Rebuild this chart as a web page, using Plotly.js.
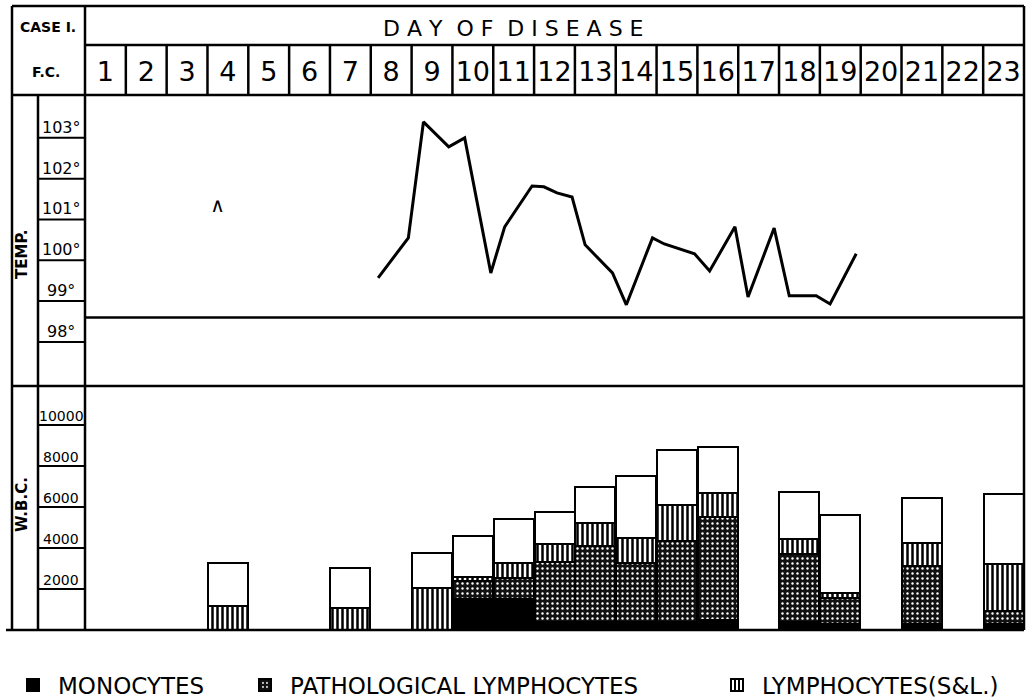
<!DOCTYPE html>
<html><head><meta charset="utf-8">
<script src="https://cdn.plot.ly/plotly-3.0.1.min.js"></script>
<style>html,body{margin:0;padding:0;background:#fff}#chart{width:1032px;height:699px}</style>
</head><body><div id="chart"></div><script>
// ---- data ----
const days = [1,2,3,4,5,6,7,8,9,10,11,12,13,14,15,16,17,18,19,20,21,22,23];
const dayLabels = ['1','2','3','4','5','6','7','8','9','10','11','12','13','14','15','16','17','18','19','20','21','22','23'];

const tempDays   = [7.68, 8.42, 8.79, 9.41, 9.80, 10.44, 10.78, 11.45, 11.74, 12.06, 12.43, 12.75, 13.42, 13.76, 14.40, 14.69, 15.43, 15.80, 16.42, 16.74, 17.38, 17.75, 18.41, 18.75, 19.39];
const tempValues = [99.57, 100.55, 103.39, 102.78, 103.0, 99.69, 100.82, 101.82, 101.80, 101.65, 101.55, 100.38, 99.69, 98.91, 100.55, 100.40, 100.16, 99.74, 100.82, 99.10, 100.79, 99.13, 99.13, 98.93, 100.16];
const caretDay = [3.75];
const caretTemp = [101.3];
const tempTicks = [98, 99, 100, 101, 102, 103];
const tempTickLabels = ['98°', '99°', '100°', '101°', '102°', '103°'];
const normalTemp = 98.6;

const wbcDays         = [4, 7, 9, 10, 11, 12, 13, 14, 15, 16, 18, 19, 21, 23];
const monocytes       = [0, 0, 0, 1500, 1500, 400, 400, 400, 400, 500, 400, 300, 300, 300];
const pathLymphocytes = [0, 0, 0, 890, 1040, 2900, 3700, 2870, 3940, 5010, 3310, 1260, 2820, 630];
const lymphocytes     = [1170, 1070, 2050, 200, 730, 900, 1120, 1220, 1760, 1170, 730, 240, 1120, 2290];
const otherCells      = [2100, 1950, 1710, 2000, 2140, 1560, 1760, 3020, 2680, 2250, 2290, 3810, 2200, 3410];
const wbcTicks = [2000, 4000, 6000, 8000, 10000];
const wbcTickLabels = ['2000', '4000', '6000', '8000', '10000'];

// ---- layout helpers (pixel -> paper) ----
const W = 1032, H = 699, ML = 85, MR = 8, MT = 95, MB = 69;
const PW = W - ML - MR, PH = H - MT - MB;
const px = x => (x - ML) / PW;
const py = y => (H - MB - y) / PH;
const SPLIT = py(386);
const FONT = '"DejaVu Sans", sans-serif';
const LW = 2.5;

const barLine = {color: '#000', width: 2};
const traces = [
  {type: 'bar', x: wbcDays, y: monocytes, name: 'MONOCYTES', xaxis: 'x', yaxis: 'y', width: 0.98,
   marker: {color: '#000', line: barLine}, legend: 'legend'},
  {type: 'bar', x: wbcDays, y: pathLymphocytes, name: 'PATHOLOGICAL LYMPHOCYTES', xaxis: 'x', yaxis: 'y', width: 0.98,
   marker: {color: '#111', line: barLine, pattern: {shape: '.', fgcolor: '#fff', bgcolor: '#111', size: 5, solidity: 0.18}}, legend: 'legend2'},
  {type: 'bar', x: wbcDays, y: lymphocytes, name: 'LYMPHOCYTES(S&L.)', xaxis: 'x', yaxis: 'y', width: 0.98,
   marker: {color: '#fff', line: barLine, pattern: {shape: '|', fgcolor: '#000', bgcolor: '#fff', size: 5, solidity: 0.5}}, legend: 'legend3'},
  {type: 'bar', x: wbcDays, y: otherCells, name: 'other', xaxis: 'x', yaxis: 'y', width: 0.98,
   marker: {color: '#fff', line: barLine}, showlegend: false},
  {type: 'scatter', mode: 'lines', x: tempDays, y: tempValues, xaxis: 'x2', yaxis: 'y2',
   line: {color: '#000', width: 3}, showlegend: false},
  {type: 'scatter', mode: 'text', x: caretDay, y: caretTemp, text: ['∧'], xaxis: 'x2', yaxis: 'y2',
   textfont: {family: FONT, size: 20, color: '#000'}, showlegend: false}
];

const shapes = [];
const line = (x0, y0, x1, y1) => ({type: 'line', xref: 'paper', yref: 'paper', x0, y0, x1, y1, line: {color: '#000', width: LW}});
shapes.push(line(px(12), py(6), 1, py(6)));
shapes.push(line(0, py(45), 1, py(45)));
shapes.push(line(px(12), 1, 1, 1));
shapes.push(line(px(12), SPLIT, 1, SPLIT));
shapes.push(line(px(6), 0, 1, 0));
shapes.push(line(px(12), py(6), px(12), 0));
shapes.push(line(px(38), 1, px(38), 0));
shapes.push(line(0, py(6), 0, 0));
shapes.push(line(1, py(6), 1, 0));
days.slice(0, -1).forEach(d => shapes.push({type: 'line', xref: 'x2', yref: 'paper', x0: d + 0.5, x1: d + 0.5, y0: 1, y1: py(45), line: {color: '#000', width: LW}}));
shapes.push({type: 'line', xref: 'paper', yref: 'y2', x0: 0, x1: 1, y0: normalTemp, y1: normalTemp, line: {color: '#000', width: LW}});
tempTicks.forEach(t => shapes.push({type: 'line', xref: 'paper', yref: 'y2', x0: px(38), x1: 0, y0: t, y1: t, line: {color: '#000', width: 2}}));
wbcTicks.forEach(t => shapes.push({type: 'line', xref: 'paper', yref: 'y', x0: px(38), x1: 0, y0: t, y1: t, line: {color: '#000', width: 2}}));

const annotations = [];
const txt = (text, x, y, size, extra) => Object.assign({text, x, y, xref: 'paper', yref: 'paper', xanchor: 'center', yanchor: 'middle', showarrow: false, font: {family: FONT, size, color: '#000'}}, extra || {});
annotations.push(txt('<b>CASE I.</b>', px(48), py(27), 14));
annotations.push(txt('<b>F.C.</b>', px(46), py(72), 14));
annotations.push(txt('D A Y  O F  D I S E A S E', px(513), py(28), 22));
annotations.push(txt('<b>TEMP.</b>', px(22), py(255), 15, {textangle: -90}));
annotations.push(txt('<b>W.B.C.</b>', px(22), py(505), 15, {textangle: -90}));
tempTicks.forEach((t, i) => annotations.push({text: tempTickLabels[i], x: px(61), y: t, xref: 'paper', yref: 'y2', xanchor: 'center', yanchor: 'bottom', showarrow: false, font: {family: FONT, size: 16, color: '#000'}, borderpad: 0}));
wbcTicks.forEach((t, i) => annotations.push({text: wbcTickLabels[i], x: px(61), y: t, xref: 'paper', yref: 'y', xanchor: 'center', yanchor: 'bottom', showarrow: false, font: {family: FONT, size: 14, color: '#000'}, borderpad: 0}));

const legendBase = {orientation: 'h', yanchor: 'middle', y: py(685), xanchor: 'left', bgcolor: 'rgba(0,0,0,0)', font: {family: FONT, size: 23, color: '#000'}, itemwidth: 40};

const layout = {
  width: W, height: H,
  margin: {l: ML, r: MR, t: MT, b: MB, autoexpand: false},
  paper_bgcolor: '#fff', plot_bgcolor: '#fff',
  barmode: 'stack', bargap: 0,
  showlegend: true,
  xaxis: {domain: [0, 1], range: [0.5, 23.5], anchor: 'y', showticklabels: false, showgrid: false, zeroline: false, showline: false, ticks: ''},
  yaxis: {domain: [0, SPLIT], range: [0, 11900], showticklabels: false, showgrid: false, zeroline: false, showline: false, ticks: ''},
  xaxis2: {domain: [0, 1], range: [0.5, 23.5], anchor: 'y2', side: 'top', tickvals: days, ticktext: dayLabels,
           tickfont: {family: FONT, size: 27, color: '#000'}, ticklabelstandoff: 8, showgrid: false, zeroline: false, showline: false, ticks: ''},
  yaxis2: {domain: [SPLIT, 1], range: [96.92, 104.05], showticklabels: false, showgrid: false, zeroline: false, showline: false, ticks: ''},
  legend: Object.assign({}, legendBase, {x: px(8)}),
  legend2: Object.assign({}, legendBase, {x: px(240)}),
  legend3: Object.assign({}, legendBase, {x: px(712)}),
  shapes, annotations
};

Plotly.newPlot('chart', traces, layout, {displayModeBar: false, staticPlot: true});
</script></body></html>
